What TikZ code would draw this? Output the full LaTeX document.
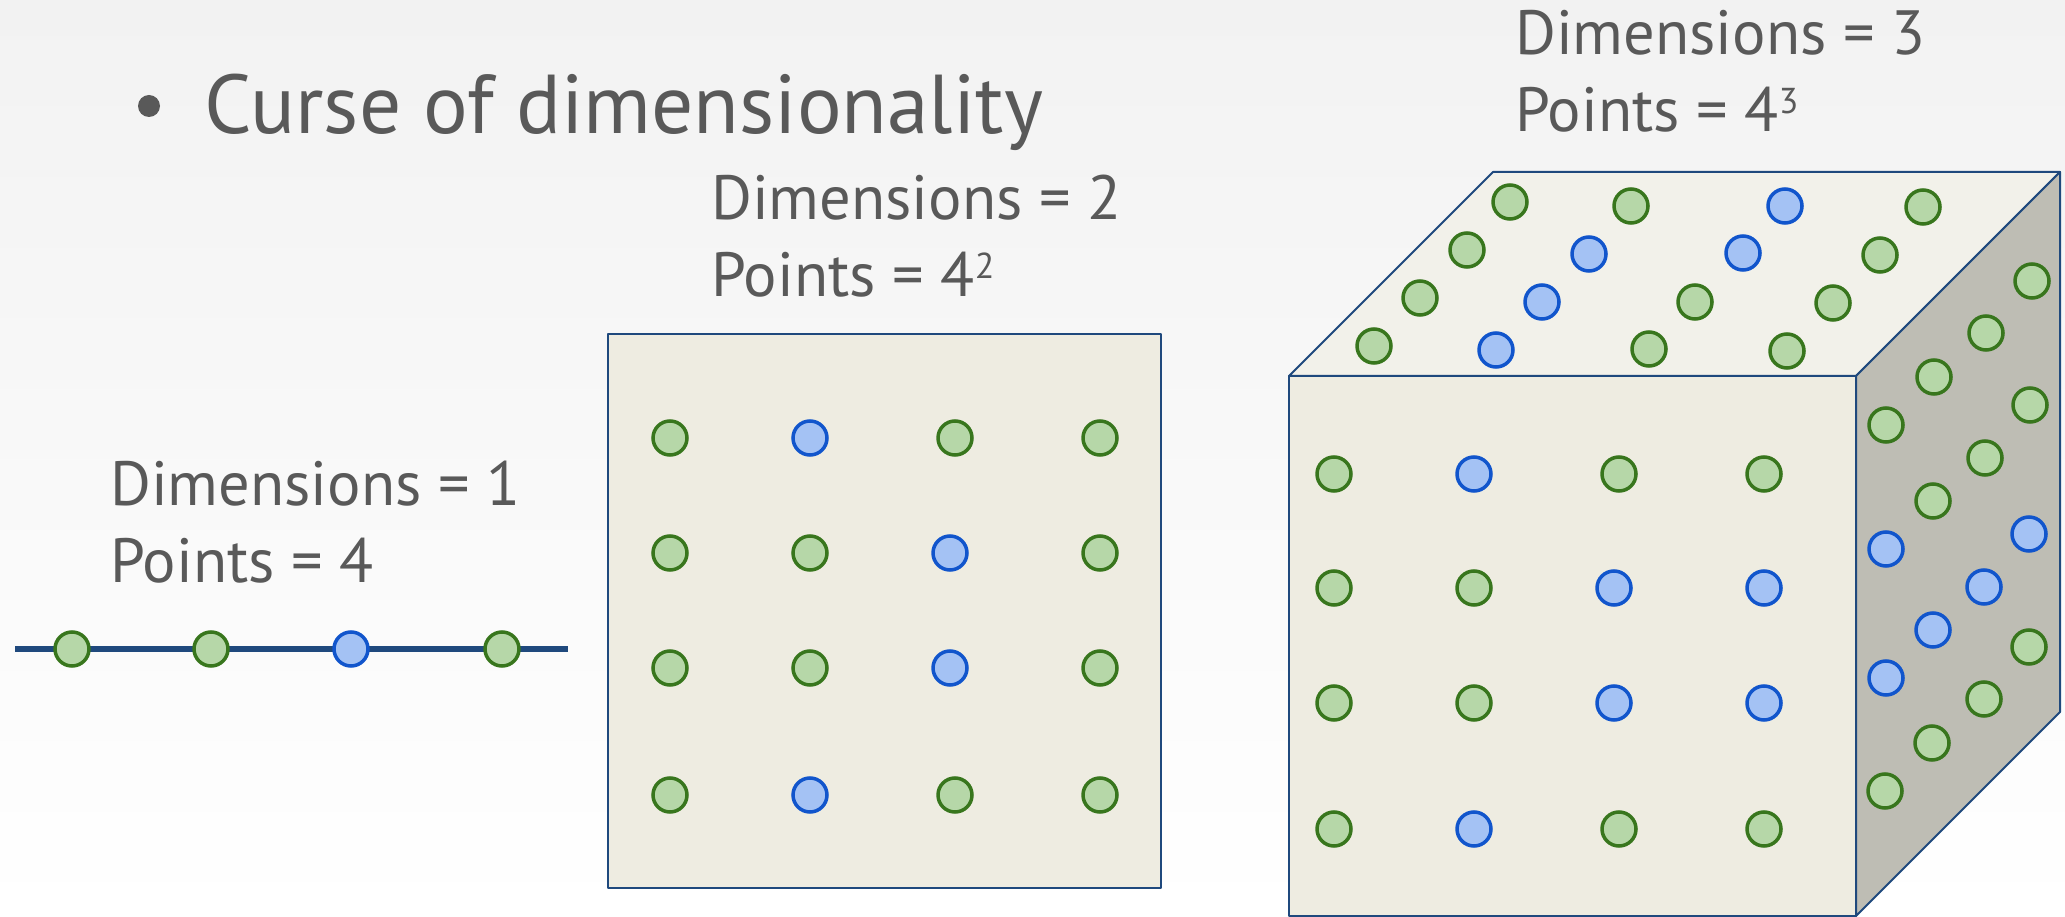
\documentclass[tikz,border=0pt]{standalone}
\usepackage{fontspec}
\setmainfont{PT Sans}
\definecolor{txt}{HTML}{595959}
\definecolor{gline}{HTML}{38761D}
\definecolor{gfill}{HTML}{B6D7A8}
\definecolor{bline}{HTML}{1155CC}
\definecolor{bfill}{HTML}{A4C2F4}
\definecolor{edge}{HTML}{1F497D}
\definecolor{face}{HTML}{EEECE1}
\definecolor{topface}{HTML}{F2F1EA}
\definecolor{sideface}{HTML}{BEBDB4}
\definecolor{bgtop}{HTML}{F2F2F2}
\newcommand{\supnum}[1]{\raisebox{18pt}{\fontsize{36}{36}\selectfont #1}}
\begin{document}
\begin{tikzpicture}[x=1pt,y=-1pt,
  pt/.style={circle,minimum size=34pt,inner sep=0pt,line width=3.5pt},
  gpt/.style={pt,draw=gline,fill=gfill},
  bpt/.style={pt,draw=bline,fill=bfill},
  lbl/.style={font=\fontsize{62.5}{62.5}\selectfont,text=txt,inner sep=0pt,anchor=base west},
  ttl/.style={font=\fontsize{83.5}{83.5}\selectfont,text=txt,inner sep=0pt,anchor=base west},
  facebox/.style={draw=edge,line width=2pt,line join=round}]
\useasboundingbox (0,0) rectangle (2065,917);
\shade[top color=bgtop,bottom color=white] (0,0) rectangle (2065,917);
% title
\node[circle,fill=txt,inner sep=0pt,minimum size=22pt] (bullet) at (149,106) {};
\node[ttl] (title) at (204,134) {Curse of dimensionality};
% labels
\node[lbl] (d1) at (110,505) {Dimensions = 1};
\node[lbl] (p1) at (110,582) {Points = 4};
\node[lbl] (d2) at (711,220) {Dimensions = 2};
\node[lbl] (p2) at (711,297) {Points = 4\supnum{2}};
\node[lbl] (d3) at (1515,55) {Dimensions = 3};
\node[lbl] (p3) at (1515,132) {Points = 4\supnum{3}};
% 1D
\coordinate (lineL) at (15,649);
\coordinate (lineR) at (568,649);
\draw[edge,line width=6pt] (lineL) -- (lineR);
\foreach \x/\t [count=\i] in {72/gpt,211/gpt,351/bpt,502/gpt}
  \node[\t] (one\i) at (\x,649) {};
% 2D
\draw[facebox,fill=face] (608,334) rectangle (1161,888);
\foreach \x/\y/\t [count=\i] in {
  670/438/gpt,810/438/bpt,955/438/gpt,1100/438/gpt,
  670/553/gpt,810/553/gpt,950/553/bpt,1100/553/gpt,
  670/668/gpt,810/668/gpt,950/668/bpt,1100/668/gpt,
  670/795/gpt,810/795/bpt,955/795/gpt,1100/795/gpt}
  \node[\t] (sq\i) at (\x,\y) {};
% 3D cube
\coordinate (FL) at (1289,376);
\coordinate (FR) at (1856,376);
\coordinate (BL) at (1289,916);
\coordinate (BR) at (1856,916);
\coordinate (TL) at (1493,172);
\coordinate (TR) at (2060,172);
\coordinate (RB) at (2060,712);
\draw[facebox,fill=face] (FL) -- (FR) -- (BR) -- (BL) -- cycle;
\draw[facebox,fill=topface] (FL) -- (TL) -- (TR) -- (FR) -- cycle;
\draw[facebox,fill=sideface] (FR) -- (TR) -- (RB) -- (BR) -- cycle;
\foreach \x/\y/\t [count=\i] in {
  1334/474/gpt,1474/474/bpt,1619/474/gpt,1764/474/gpt,
  1334/588/gpt,1474/588/gpt,1614/588/bpt,1764/588/bpt,
  1334/703/gpt,1474/703/gpt,1614/703/bpt,1764/703/bpt,
  1334/829/gpt,1474/829/bpt,1619/829/gpt,1764/829/gpt}
  \node[\t] (fr\i) at (\x,\y) {};
\foreach \x/\y/\t [count=\i] in {
  1510/202/gpt,1631/206/gpt,1785/206/bpt,1923/207/gpt,
  1467/250/gpt,1589/254/bpt,1743/253/bpt,1880/255/gpt,
  1420/298/gpt,1542/302/bpt,1695/302/gpt,1833/303/gpt,
  1374/346/gpt,1496/350/bpt,1649/349/gpt,1787/351/gpt}
  \node[\t] (tp\i) at (\x,\y) {};
\foreach \x/\y/\t [count=\i] in {
  1886/425/gpt,1886/549/bpt,1886/678/bpt,1885/791/gpt,
  1934/377/gpt,1933/501/gpt,1933/630/bpt,1932/743/gpt,
  1986/333/gpt,1985/458/gpt,1984/587/bpt,1984/699/gpt,
  2032/281/gpt,2030/405/gpt,2029/534/bpt,2029/647/gpt}
  \node[\t] (rt\i) at (\x,\y) {};
\end{tikzpicture}
\end{document}
